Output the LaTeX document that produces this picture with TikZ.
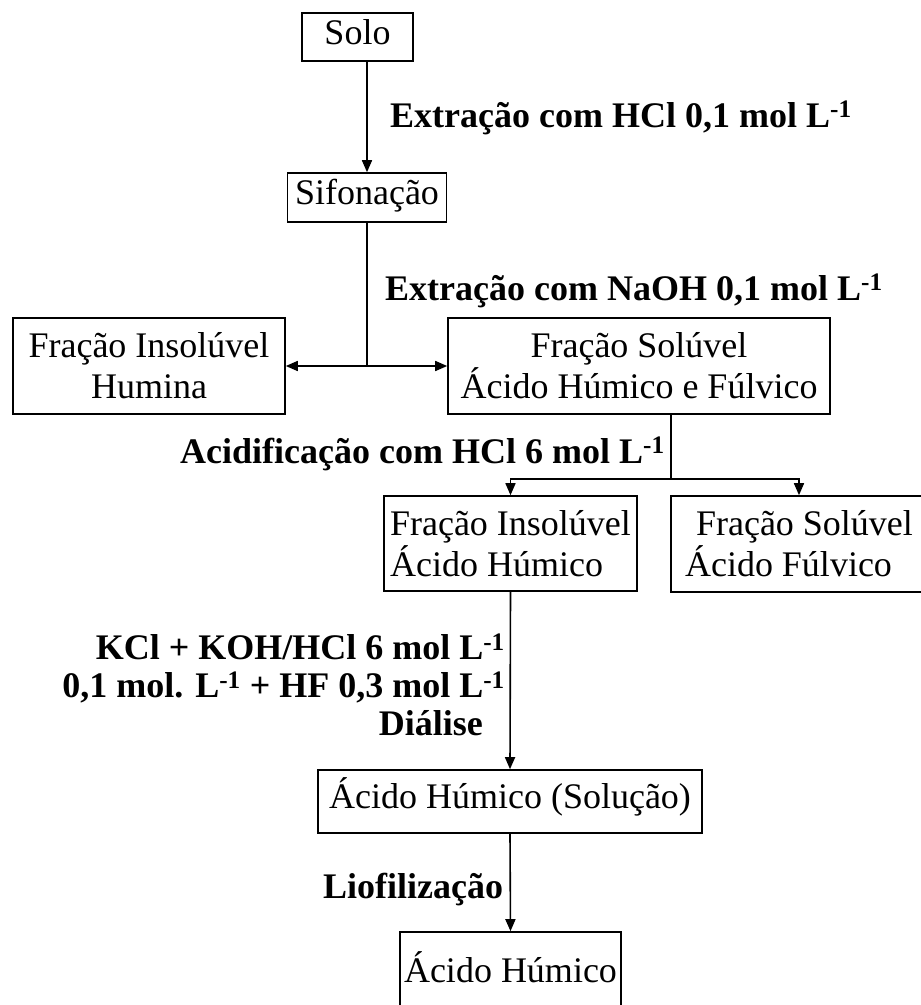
\documentclass[tikz,border=0pt]{standalone}
\usepackage{fontspec}
\setmainfont{Liberation Serif}
\usetikzlibrary{arrows.meta,positioning}
\newcommand{\boxfont}{\fontsize{36}{41}\selectfont}
\newcommand{\stepfont}{\fontsize{36}{38}\selectfont\bfseries}

\begin{document}
\begin{tikzpicture}[x=1pt, y=-1pt,
    box/.style={rectangle, draw, line width=1.6pt, align=center,
                inner sep=0pt, font=\boxfont},
    onebox/.style={box, text height=26pt, text depth=12pt},
    steptext/.style={inner sep=0pt, font=\stepfont},
    arrow/.style={-{Triangle[length=12pt,width=10pt]}, line width=1.6pt}]

\clip (0,0) rectangle (921,1005);
\fill[white] (0,0) rectangle (921,1005);

% Extraction steps
\node[onebox, minimum width=111pt, minimum height=48pt] (solo) at (357.5,37) {Solo};
\node[onebox, minimum width=159pt, minimum height=49pt] (sifon) at (367,197.5) {Sifonação};
\node[box, minimum width=272pt, minimum height=96pt] (humina) at (149,366) {Fração Insolúvel\\Humina};
\node[box, minimum width=382pt, minimum height=96pt] (solfh) at (639,366) {Fração Solúvel\\Ácido Húmico e Fúlvico};

% Fractions after acidification
\node[box, align=left, minimum width=253pt, minimum height=95pt] (insolah) at (510.5,543.5) {Fração Insolúvel\\Ácido Húmico};
\node[box, align=left, minimum width=256pt, minimum height=96pt] (solaf) at (799,544) {\hspace*{11pt}Fração Solúvel\\Ácido Fúlvico};

% Purification
\node[onebox, minimum width=384pt, minimum height=63pt] (solucao) at (510,801.5) {Ácido Húmico (Solução)};
\node[onebox, minimum width=221pt, minimum height=86pt] (acidoh) at (510.5,975) {Ácido Húmico};

% Step labels
\node[steptext, anchor=base west] (lblhcl) at (390,127) {Extração com HCl 0,1 mol L\textsuperscript{-1}};
\node[steptext, anchor=base west] (lblnaoh) at (385,300) {Extração com NaOH 0,1 mol L\textsuperscript{-1}};
\node[steptext, anchor=base west] (lblacid) at (180,463) {Acidificação com HCl 6 mol L\textsuperscript{-1}};
\node[steptext, align=right, anchor=north east] (lblkcl) at (505,634)
    {KCl + KOH/HCl 6 mol L\textsuperscript{-1}\\0,1 mol. L\textsuperscript{-1} + HF 0,3 mol L\textsuperscript{-1}\\Diálise\hspace*{22pt}\mbox{}};
\node[steptext, anchor=base west] (lbllio) at (323,898) {Liofilização};

% Arrows
\coordinate (split1) at (sifon.south |- humina.east);
\coordinate (split2) at (671,479);
\draw[arrow] (sifon.north |- solo.south) -- (sifon.north);
\draw[line width=1.6pt] (sifon.south) -- (split1);
\draw[arrow] (split1) -- (humina.east);
\draw[arrow] (split1) -- (solfh.west);
\draw[line width=1.6pt] (split2 |- solfh.south) -- (split2);
\draw[arrow] (split2) -| (insolah.north);
\draw[arrow] (split2) -| (solaf.north);
\draw[arrow] (insolah.south) -- (solucao.north);
\draw[arrow] (solucao.south) -- (acidoh.north);
\end{tikzpicture}
\end{document}
